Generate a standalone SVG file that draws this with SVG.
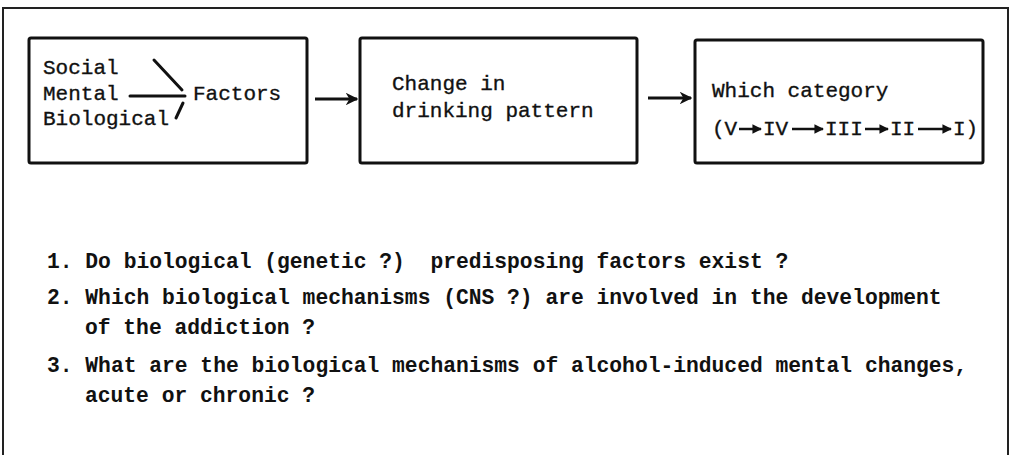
<svg xmlns="http://www.w3.org/2000/svg" width="1011" height="455" viewBox="0 0 1011 455">
  <style>
    .frame { fill: none; stroke: #222; stroke-width: 2; }
    .box { fill: #fff; stroke: #111; stroke-width: 3; }
    .t { font-family: "Liberation Mono", "DejaVu Sans Mono", monospace; font-size: 21px; fill: #111; white-space: pre; stroke: #111; stroke-width: 0.35; }
    .q { font-weight: bold; font-size: 21.3px; stroke-width: 0; }
    .ln { stroke: #111; stroke-width: 3; fill: none; stroke-linecap: round; }
    .arr { stroke: #111; stroke-width: 3; fill: none; }
    .sarr { stroke: #111; stroke-width: 2.5; fill: none; }
  </style>
  <defs>
    <marker id="head" viewBox="0 0 10 10" refX="9" refY="5" markerWidth="4.2" markerHeight="4.2" orient="auto" markerUnits="strokeWidth">
      <path d="M0,0 L10,5 L0,10 L3,5 Z" fill="#111"/>
    </marker>
    <marker id="shead" viewBox="0 0 10 10" refX="9" refY="5" markerWidth="3.8" markerHeight="3.8" orient="auto" markerUnits="strokeWidth">
      <path d="M0,0 L10,5 L0,10 Z" fill="#111"/>
    </marker>
  </defs>

  <!-- outer frame, open at the bottom -->
  <path class="frame" d="M3,455 V8 H1008 V455"/>

  <!-- node: influencing factors -->
  <g id="factors">
    <rect class="box" x="29" y="38" width="278" height="125" rx="2"/>
    <text class="t" x="43" y="74">Social</text>
    <text class="t" x="43" y="100">Mental</text>
    <text class="t" x="43" y="125">Biological</text>
    <line class="ln" x1="154" y1="60" x2="182" y2="90"/>
    <line class="ln" x1="130" y1="96" x2="185" y2="96"/>
    <line class="ln" x1="183" y1="103" x2="176" y2="118"/>
    <text class="t" x="193" y="100">Factors</text>
  </g>

  <!-- node: drinking pattern -->
  <g id="drinking">
    <rect class="box" x="360" y="38" width="277" height="125" rx="2"/>
    <text class="t" x="392" y="90">Change in</text>
    <text class="t" x="392" y="117">drinking pattern</text>
  </g>

  <!-- node: category progression -->
  <g id="category">
    <rect class="box" x="695" y="40" width="288" height="123" rx="2"/>
    <text class="t" x="712" y="97">Which category</text>
    <text class="t" x="712" y="135">(V</text>
    <text class="t" x="763" y="135">IV</text>
    <text class="t" x="825" y="135">III</text>
    <text class="t" x="890" y="135">II</text>
    <text class="t" x="953" y="135">I)</text>
    <line class="sarr" x1="739" y1="129" x2="761" y2="129" marker-end="url(#shead)"/>
    <line class="sarr" x1="792" y1="129" x2="823" y2="129" marker-end="url(#shead)"/>
    <line class="sarr" x1="865" y1="129" x2="888" y2="129" marker-end="url(#shead)"/>
    <line class="sarr" x1="918" y1="129" x2="951" y2="129" marker-end="url(#shead)"/>
  </g>

  <!-- connectors between nodes -->
  <g id="connectors">
    <line class="arr" x1="315" y1="99" x2="357" y2="99" marker-end="url(#head)"/>
    <line class="arr" x1="648" y1="98" x2="691" y2="98" marker-end="url(#head)"/>
  </g>

  <!-- open questions -->
  <g id="questions">
    <text class="t q" x="47" y="268">1. Do biological (genetic ?)  predisposing factors exist ?</text>
    <text class="t q" x="47" y="304">2. Which biological mechanisms (CNS ?) are involved in the development</text>
    <text class="t q" x="85" y="334">of the addiction ?</text>
    <text class="t q" x="47" y="372">3. What are the biological mechanisms of alcohol-induced mental changes,</text>
    <text class="t q" x="85" y="402">acute or chronic ?</text>
  </g>
</svg>
